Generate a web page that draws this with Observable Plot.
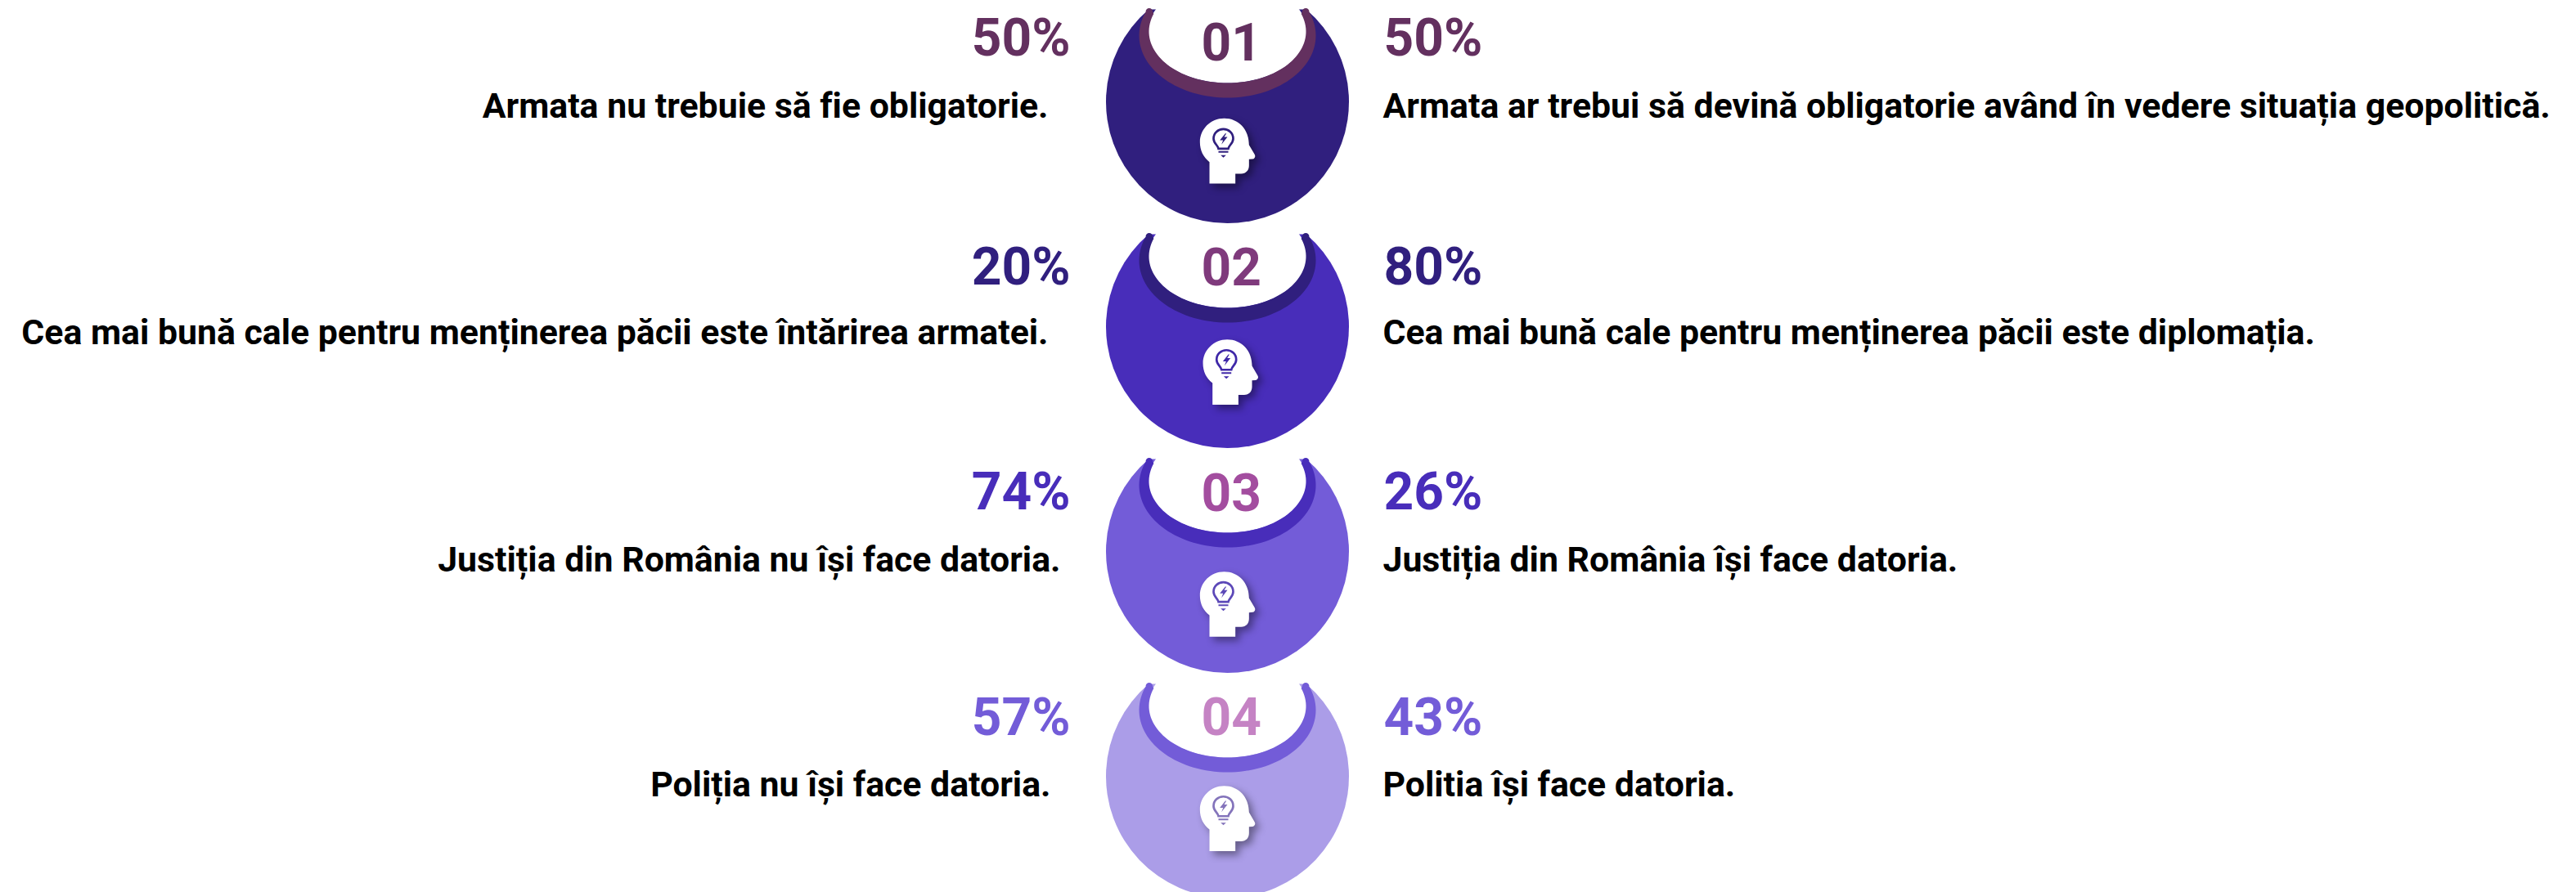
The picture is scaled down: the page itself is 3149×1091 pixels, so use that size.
<!DOCTYPE html>
<html><head><meta charset="utf-8">
<script src="https://cdn.jsdelivr.net/npm/d3@7"></script>
<script src="https://cdn.jsdelivr.net/npm/@observablehq/plot@0.6"></script>
<style>html,body{margin:0;padding:0;background:#fff}svg{display:block}</style>
</head><body><div id="chart"></div>
<script>
const ids = ["01","02","03","04"];
const leftPct = [50,20,74,57];
const rightPct = [50,80,26,43];
const leftText = ["Armata nu trebuie să fie obligatorie.","Cea mai bună cale pentru menținerea păcii este întărirea armatei.","Justiția din România nu își face datoria.","Poliția nu își face datoria."];
const rightText = ["Armata ar trebui să devină obligatorie având în vedere situația geopolitică.","Cea mai bună cale pentru menținerea păcii este diplomația.","Justiția din România își face datoria.","Politia își face datoria."];
const bodyColor = ["#301f7e","#482dba","#735cd8","#ab9de8"];
const ringColor = ["#63305f","#301f7e","#482dba","#735cd8"];
const numColor = ["#63305f","#7f3a7c","#a34d9f","#c583c4"];
const bulbColor = ["#301f7e","#3f28a8","#5c48b8","#8474bb"];

// layout tweaks per row
const leftTextDx = [-27,-27,-12,-24];
const textDy = [5.5,8,11,11];
const pctDy = [-77,-72,-72,-71];
const numDy = [-70.5,-71,-69.5,-70.5];
const headDx = [0,3.7,0,0];
const headDy = [0,-4.6,4.3,-8.6];

const R = 148.5;
const rad = d => d*Math.PI/180;
function ellipseTo(ctx,cy,rx,ry,a0,a1,move){
  const n=80;
  for(let i=0;i<=n;i++){
    const t=rad(a0+(a1-a0)*i/n), x=rx*Math.cos(t), y=cy+ry*Math.sin(t);
    if(i===0&&move) ctx.moveTo(x,y); else ctx.lineTo(x,y);
  }
}
const bodyGlyph = {draw(ctx){
  const a=Math.atan2(-113,96.2);
  ctx.moveTo(R*Math.cos(a),R*Math.sin(a));
  ctx.arc(0,0,R,a,Math.PI-a,false);
  ctx.closePath();
}};
const bowlGlyph = {draw(ctx){ ellipseTo(ctx,-86,97,63,-26,206,true); ctx.closePath(); }};
const ringGlyph = {draw(ctx){
  ellipseTo(ctx,-81,108,76,-23,203,true);
  ctx.arc(-95.7,-110.3,4.3,Math.PI,2*Math.PI,false);
  ellipseTo(ctx,-86,96,63,200,-20,false);
  ctx.arc(95.7,-110.3,4.3,Math.PI,2*Math.PI,false);
  ctx.closePath();
}};
// icon glyphs, in units of a 3x crop, shifted to the circle centre
const hx=x=>x/3-200, hy=y=>y/3-123;
const M=(c,x,y)=>c.moveTo(hx(x),hy(y)), L=(c,x,y)=>c.lineTo(hx(x),hy(y));
const C=(c,a,b,d,e,f,g)=>c.bezierCurveTo(hx(a),hy(b),hx(d),hy(e),hx(f),hy(g));
const headGlyph = {draw(c){
  M(c,534,669); L(c,629,669); L(c,629,633); L(c,650,633);
  C(c,668,633,679,620,679,603); L(c,679,580); L(c,692,579);
  C(c,701,578,704,568,699,561); L(c,679,527);
  C(c,679,470,640,430,588,430);
  C(c,538,430,499,470,499,517);
  C(c,499,548,512,573,534,590);
  c.closePath();
}};
const bulbGlyph = {draw(c){
  M(c,567,541); C(c,565,528,549,522,549,504); C(c,549,484,565,469,585,469);
  C(c,605,469,621,484,621,504); C(c,621,522,605,528,603,541); c.closePath();
}};
const bulbFillGlyph = {draw(c){
  M(c,567,550); L(c,603,550); L(c,603,556); L(c,567,556); c.closePath();
  M(c,575,565); L(c,595,565); L(c,585,574); c.closePath();
  M(c,592,485); L(c,572,510); L(c,584,510); L(c,578,526); L(c,600,498); L(c,588,498); L(c,596,485); c.closePath();
}};

const font={fontFamily:"Roboto",fontWeight:700};
const marks=[];
ids.forEach((id,i)=>{
  const row=[{id}];
  const base={x:()=>"C",y:"id"};
  marks.push(
    Plot.dot(row,{...base,symbol:bodyGlyph,fill:bodyColor[i],stroke:"none"}),
    Plot.dot(row,{...base,symbol:bowlGlyph,fill:"#fff",stroke:"none"}),
    Plot.dot(row,{...base,symbol:ringGlyph,fill:ringColor[i],stroke:"none"}),
    Plot.dot(row,{...base,symbol:headGlyph,fill:"#fff",stroke:"none",dx:headDx[i],dy:headDy[i],imageFilter:"drop-shadow(5px 5px 5px rgba(0,0,0,0.4))"}),
    Plot.dot(row,{...base,symbol:bulbGlyph,fill:"none",stroke:bulbColor[i],strokeWidth:2.7,dx:headDx[i],dy:headDy[i]}),
    Plot.dot(row,{...base,symbol:bulbFillGlyph,fill:bulbColor[i],stroke:"none",dx:headDx[i],dy:headDy[i]}),
    Plot.text(row,{...base,text:"id",...font,fontSize:64,fill:numColor[i],textAnchor:"start",dx:-32,dy:numDy[i],lineAnchor:"middle"}),
    Plot.text([leftPct[i]],{x:()=>"L",y:()=>id,text:d=>d+"%",...font,fontSize:64,fill:ringColor[i],textAnchor:"end",dy:pctDy[i],lineAnchor:"middle"}),
    Plot.text([rightPct[i]],{x:()=>"R",y:()=>id,text:d=>d+"%",...font,fontSize:64,fill:ringColor[i],textAnchor:"start",dx:-1,dy:pctDy[i],lineAnchor:"middle"}),
    Plot.text([leftText[i]],{x:()=>"L",y:()=>id,text:d=>d,...font,fontSize:42.8,fill:"#000",textAnchor:"end",dx:leftTextDx[i],dy:textDy[i],lineAnchor:"middle"}),
    Plot.text([rightText[i]],{x:()=>"R",y:()=>id,text:d=>d,...font,fontSize:42.8,fill:"#000",textAnchor:"start",dx:-2,dy:textDy[i],lineAnchor:"middle"})
  );
});
document.getElementById("chart").append(Plot.plot({
  width:3149,height:1091,margin:0,style:{background:"#fff",overflow:"hidden",fontVariantLigatures:"none"},
  x:{type:"point",padding:0,domain:["L","C","R"],range:[1308,1692],axis:null},
  y:{type:"point",padding:0,domain:ids,range:[123,949],axis:null},
  marks
}));
</script></body></html>
